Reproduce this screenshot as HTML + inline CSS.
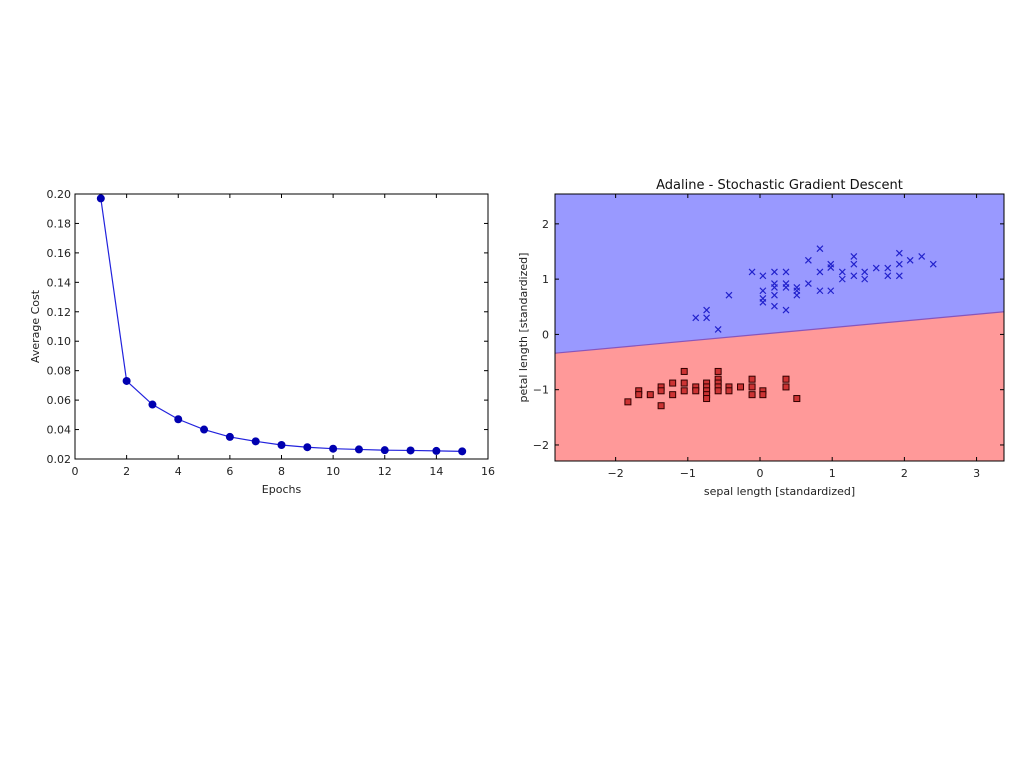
<!DOCTYPE html>
<html><head><meta charset="utf-8"><style>
html,body{margin:0;padding:0;background:#fff;}
svg{display:block;font-family:"DejaVu Sans","Liberation Sans",sans-serif;}
</style></head><body>
<svg id="s" width="1024" height="767"></svg>
<script>
const epochs=[1,2,3,4,5,6,7,8,9,10,11,12,13,14,15];
const costs=[0.197,0.073,0.057,0.047,0.040,0.035,0.032,0.0295,0.028,0.027,0.0265,0.026,0.0258,0.0255,0.0252];
const leftXTicks=[0,2,4,6,8,10,12,14,16];
const leftYTicks=[0.02,0.04,0.06,0.08,0.10,0.12,0.14,0.16,0.18,0.20];
const rightXTicks=[-2,-1,0,1,2,3];
const rightYTicks=[-2,-1,0,1,2];
const boundaryX=[-2.84,3.38];
const boundaryY=[-0.34,0.41];
const crossX=[-0.89,-0.74,-0.74,-0.58,-0.43,-0.11,0.04,0.04,0.04,0.04,0.20,0.20,0.20,0.20,0.20,0.36,0.36,0.36,0.36,0.51,0.51,0.51,0.67,0.67,0.83,0.83,0.83,0.98,0.98,0.98,1.14,1.14,1.30,1.30,1.30,1.45,1.45,1.61,1.77,1.77,1.93,1.93,1.93,2.08,2.24,2.40];
const crossY=[0.30,0.44,0.30,0.09,0.71,1.13,1.06,0.79,0.65,0.58,1.13,0.92,0.85,0.71,0.51,1.13,0.92,0.85,0.44,0.85,0.79,0.71,1.34,0.92,1.55,1.13,0.79,1.27,1.21,0.79,1.13,1.0,1.41,1.27,1.06,1.13,1.0,1.20,1.20,1.06,1.47,1.27,1.06,1.34,1.41,1.27];
const squareX=[-1.83,-1.68,-1.68,-1.52,-1.37,-1.37,-1.37,-1.21,-1.21,-1.05,-1.05,-1.05,-0.89,-0.89,-0.74,-0.74,-0.74,-0.74,-0.74,-0.58,-0.58,-0.58,-0.58,-0.58,-0.43,-0.43,-0.27,-0.11,-0.11,-0.11,0.04,0.04,0.36,0.36,0.51];
const squareY=[-1.22,-1.02,-1.09,-1.09,-0.95,-1.02,-1.29,-0.88,-1.09,-0.67,-0.88,-1.02,-0.95,-1.02,-0.88,-0.95,-1.02,-1.09,-1.16,-0.67,-0.81,-0.88,-0.95,-1.02,-0.95,-1.02,-0.95,-0.81,-0.95,-1.09,-1.02,-1.09,-0.81,-0.95,-1.16];

const NS='http://www.w3.org/2000/svg', S=document.getElementById('s');
function mk(t,a,p){const e=document.createElementNS(NS,t);for(const k in a)e.setAttribute(k,a[k]);(p||S).appendChild(e);return e;}

// Left chart
const L={x0:75,x1:488,y0:194,y1:459};
const lx=v=>L.x0+(v-0)/16*(L.x1-L.x0);
const ly=v=>L.y1-(v-0.02)/0.18*(L.y1-L.y0);
const lg=mk('g',{});


mk('rect',{x:L.x0,y:L.y0,width:L.x1-L.x0,height:L.y1-L.y0,fill:'#fff',stroke:'#000','stroke-width':1},lg);
leftXTicks.forEach(t=>{const x=lx(t);
 mk('line',{x1:x,x2:x,y1:L.y1,y2:L.y1-4,stroke:'#000'},lg);mk('line',{x1:x,x2:x,y1:L.y0,y2:L.y0+4,stroke:'#000'},lg);
 const tx=mk('text',{x:x,y:L.y1+16,'text-anchor':'middle','font-size':11,fill:'#222'},lg);tx.textContent=t;
 });
leftYTicks.forEach(t=>{const y=ly(t);
 mk('line',{x1:L.x0,x2:L.x0+4,y1:y,y2:y,stroke:'#000'},lg);mk('line',{x1:L.x1,x2:L.x1-4,y1:y,y2:y,stroke:'#000'},lg);
 const tx=mk('text',{x:L.x0-4,y:y+4,'text-anchor':'end','font-size':11,fill:'#222'},lg);tx.textContent=t.toFixed(2);
 });
const pl=mk('polyline',{points:epochs.map((e,i)=>lx(e)+','+ly(costs[i])).join(' '),fill:'none',stroke:'#2222dd','stroke-width':1.2},lg);

epochs.forEach((e,i)=>{const c=mk('circle',{cx:lx(e),cy:ly(costs[i]),r:4,fill:'#0000b0'},lg);
 });
let t=mk('text',{x:(L.x0+L.x1)/2,y:L.y1+34,'text-anchor':'middle','font-size':11,fill:'#222'},lg);t.textContent='Epochs';

t=mk('text',{x:0,y:0,'text-anchor':'middle','font-size':11,fill:'#222',transform:`translate(39,${(L.y0+L.y1)/2}) rotate(-90)`},lg);t.textContent='Average Cost';


// Right chart
const R={x0:555,x1:1004,y0:194,y1:461,xmin:-2.84,xmax:3.38,ymin:-2.29,ymax:2.54};
const rx=v=>R.x0+(v-R.xmin)/(R.xmax-R.xmin)*(R.x1-R.x0);
const ry=v=>R.y1-(v-R.ymin)/(R.ymax-R.ymin)*(R.y1-R.y0);
const rg=mk('g',{});


const bx0=rx(boundaryX[0]),by0=ry(boundaryY[0]),bx1=rx(boundaryX[1]),by1=ry(boundaryY[1]);
const up=mk('polygon',{points:`${R.x0},${R.y0} ${R.x1},${R.y0} ${bx1},${by1} ${bx0},${by0}`,fill:'#9999ff'},rg);

const dn=mk('polygon',{points:`${bx0},${by0} ${bx1},${by1} ${R.x1},${R.y1} ${R.x0},${R.y1}`,fill:'#ff9999'},rg);

mk('line',{x1:bx0,y1:by0,x2:bx1,y2:by1,stroke:'#8855bb','stroke-width':1.2},rg);
squareX.forEach((x,i)=>{const r=mk('rect',{x:rx(x)-3,y:ry(squareY[i])-3,width:6,height:6,fill:'#cc3333',stroke:'#330000','stroke-width':1},rg);
 });
crossX.forEach((x,i)=>{const cx=rx(x),cy=ry(crossY[i]);
 const p=mk('path',{d:`M${cx-3},${cy-3}L${cx+3},${cy+3}M${cx-3},${cy+3}L${cx+3},${cy-3}`,stroke:'#2222cc','stroke-width':1.2},rg);
 });
mk('rect',{x:R.x0,y:R.y0,width:R.x1-R.x0,height:R.y1-R.y0,fill:'none',stroke:'#000','stroke-width':1},rg);
rightXTicks.forEach(v=>{const x=rx(v);
 mk('line',{x1:x,x2:x,y1:R.y1,y2:R.y1-4,stroke:'#000'},rg);mk('line',{x1:x,x2:x,y1:R.y0,y2:R.y0+4,stroke:'#000'},rg);
 const tx=mk('text',{x:x,y:R.y1+16,'text-anchor':'middle','font-size':11,fill:'#222'},rg);tx.textContent=(v<0?'\u2212'+(-v):v);
 });
rightYTicks.forEach(v=>{const y=ry(v);
 mk('line',{x1:R.x0,x2:R.x0+4,y1:y,y2:y,stroke:'#000'},rg);mk('line',{x1:R.x1,x2:R.x1-4,y1:y,y2:y,stroke:'#000'},rg);
 const tx=mk('text',{x:R.x0-6,y:y+4,'text-anchor':'end','font-size':11,fill:'#222'},rg);tx.textContent=(v<0?'\u2212'+(-v):v);
 });
t=mk('text',{x:(R.x0+R.x1)/2,y:189,'text-anchor':'middle','font-size':13,fill:'#111'},rg);t.textContent='Adaline - Stochastic Gradient Descent';

t=mk('text',{x:(R.x0+R.x1)/2,y:R.y1+34,'text-anchor':'middle','font-size':11,fill:'#222'},rg);t.textContent='sepal length [standardized]';

t=mk('text',{x:0,y:0,'text-anchor':'middle','font-size':11,fill:'#222',transform:`translate(527,${(R.y0+R.y1)/2}) rotate(-90)`},rg);t.textContent='petal length [standardized]';

</script>
</body></html>
